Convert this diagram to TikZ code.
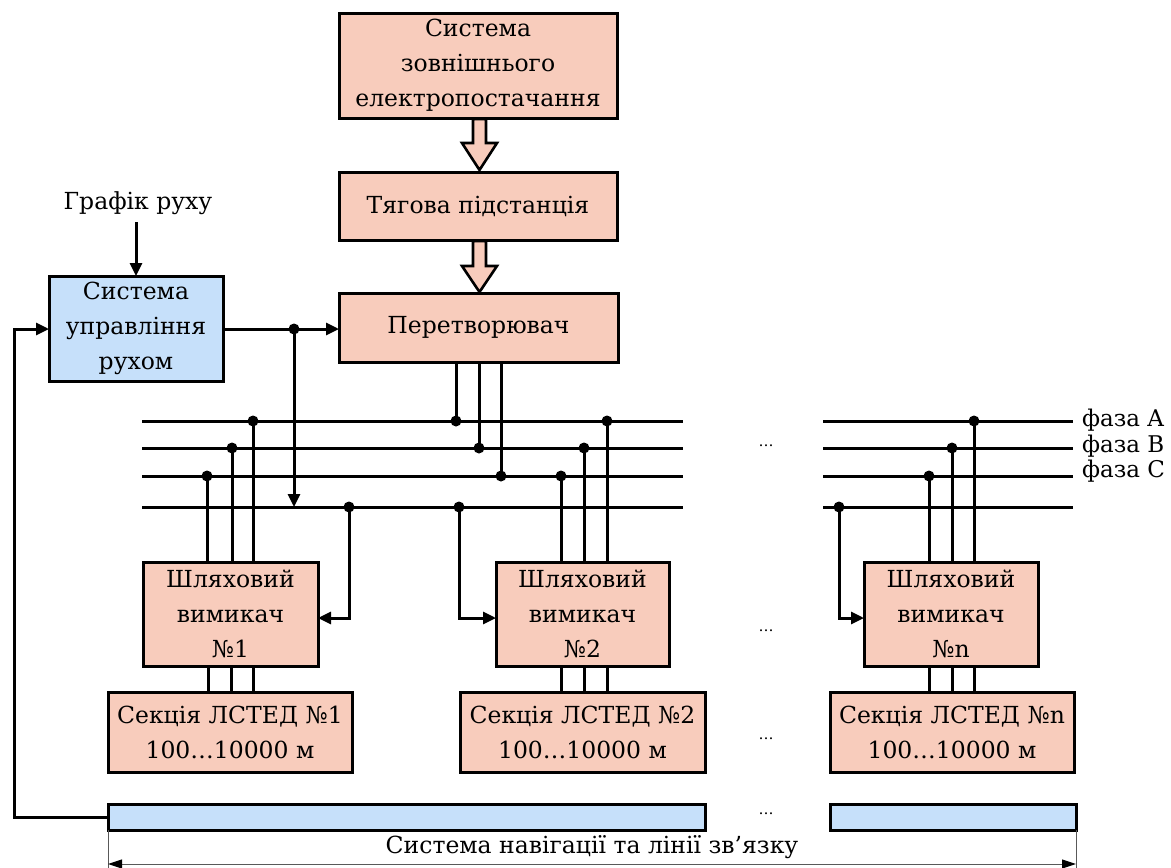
\documentclass[tikz,border=0pt]{standalone}
\usepackage{fontspec}
\setmainfont{DejaVu Serif}
\usetikzlibrary{arrows.meta}
\definecolor{salmon}{RGB}{248,204,188}
\definecolor{lblue}{RGB}{198,224,250}
\tikzset{
  box/.style={draw=black, line width=3pt, fill=salmon, inner sep=0pt, outer sep=0pt, align=center, anchor=north west, font=\fontsize{23.5}{35}\selectfont},
  bbox/.style={box, fill=lblue},
  wire/.style={line width=3pt},
  arr/.style={wire, -{Triangle[length=13pt,width=12pt]}},
  dot/.style={circle, fill=black, inner sep=0pt, minimum size=11pt},
  lbl/.style={font=\fontsize{23.5}{35}\selectfont, inner sep=0pt},
  phase/.style={font=\fontsize{23}{26}\selectfont, inner sep=0pt, anchor=west},
  hollow/.style={draw=black, line width=2.6pt, fill=salmon}
}
\begin{document}
\begin{tikzpicture}[x=1pt,y=-1pt]
\useasboundingbox (0,0) rectangle (1171,868);
% main boxes
\node[box, minimum width=278pt, minimum height=105pt] (sup) at (339,13) {Система\\зовнішнього\\електропостачання};
\node[box, minimum width=278pt, minimum height=68pt] (tyag) at (339,172) {Тягова підстанція};
\node[box, minimum width=279pt, minimum height=69pt] (conv) at (339,293) {Перетворювач};
\node[bbox, minimum width=174pt, minimum height=105pt] (ctrl) at (49,276) {Система\\управління\\рухом};
\node[lbl] (graf) at (138,203) {Графік руху};
% hollow arrows
\draw[hollow] (473,119) -- (486,119) -- (486,143) -- (497,143) -- (479.5,170) -- (462,143) -- (473,143) -- cycle;
\draw[hollow] (473,241) -- (486,241) -- (486,266) -- (497,266) -- (479.5,292) -- (462,266) -- (473,266) -- cycle;
% switches and sections
\node[box, minimum width=175pt, minimum height=104pt] (sw1) at (143,562) {Шляховий\\вимикач\\№1};
\node[box, minimum width=173pt, minimum height=104pt] (sw2) at (496,562) {Шляховий\\вимикач\\№2};
\node[box, minimum width=174pt, minimum height=104pt] (swn) at (864,562) {Шляховий\\вимикач\\№n};
\node[box, minimum width=244pt, minimum height=80pt] (sec1) at (108,692) {Секція ЛСТЕД №1\\100…10000 м};
\node[box, minimum width=245pt, minimum height=80pt] (sec2) at (460,692) {Секція ЛСТЕД №2\\100…10000 м};
\node[box, minimum width=244pt, minimum height=80pt] (secn) at (830,692) {Секція ЛСТЕД №n\\100…10000 м};
\node[bbox, minimum width=597pt, minimum height=26pt] (bar1) at (108,804) {};
\node[bbox, minimum width=246pt, minimum height=26pt] (bar2) at (830,804) {};
% bus coordinates
\coordinate (LA) at (142,421); \coordinate (RA) at (683,421);
\coordinate (LB) at (142,448); \coordinate (RB) at (683,448);
\coordinate (LC) at (142,476); \coordinate (RC) at (683,476);
\coordinate (LD) at (142,507); \coordinate (RD) at (683,507);
\coordinate (LA2) at (823,421); \coordinate (RA2) at (1073,421);
\coordinate (LB2) at (823,448); \coordinate (RB2) at (1073,448);
\coordinate (LC2) at (823,476); \coordinate (RC2) at (1073,476);
\coordinate (LD2) at (823,507); \coordinate (RD2) at (1073,507);
\draw[wire] (LA) -- (RA); \draw[wire] (LB) -- (RB); \draw[wire] (LC) -- (RC); \draw[wire] (LD) -- (RD);
\draw[wire] (LA2) -- (RA2); \draw[wire] (LB2) -- (RB2); \draw[wire] (LC2) -- (RC2); \draw[wire] (LD2) -- (RD2);
\node[phase] (fa) at (1082,420) {фаза A};
\node[phase] (fb) at (1082,446) {фаза B};
\node[phase] (fc) at (1082,471) {фаза C};
% converter to bus
\draw[wire] (456,362) -- (456,421) node[dot]{};
\draw[wire] (479,362) -- (479,448) node[dot]{};
\draw[wire] (501,362) -- (501,476) node[dot]{};
% control
\coordinate (g1) at (136,222);
\draw[arr] (ctrl.north |- g1) -- (ctrl.north);
\coordinate (cy) at (0,329);
\draw[arr] (ctrl.east |- cy) -- (conv.west |- cy);
\node[dot] (cd) at (294,329) {};
\draw[arr] (cd.center) -- (294,507);
\coordinate (fbx) at (14,0);
\coordinate (fb2) at (14,329);
\draw[arr] (bar1.west) -- (bar1.west -| fbx) -- (fb2) -- (ctrl.west |- fb2);
% switch 1
\draw[wire] (207,562) -- (207,476) node[dot]{};
\draw[wire] (232,562) -- (232,448) node[dot]{};
\draw[wire] (253,562) -- (253,421) node[dot]{};
\node[dot] (d1) at (349,507) {};
\coordinate (ay) at (0,618);
\draw[arr] (d1.center) -- (d1.center |- ay) -- (sw1.east |- ay);
\draw[wire] (208,666) -- (208,692); \draw[wire] (231,666) -- (231,692); \draw[wire] (253,666) -- (253,692);
% switch 2
\draw[wire] (561,562) -- (561,476) node[dot]{};
\draw[wire] (584,562) -- (584,448) node[dot]{};
\draw[wire] (607,562) -- (607,421) node[dot]{};
\node[dot] (d2) at (459,507) {};
\draw[arr] (d2.center) -- (d2.center |- ay) -- (sw2.west |- ay);
\draw[wire] (561,666) -- (561,692); \draw[wire] (584,666) -- (584,692); \draw[wire] (607,666) -- (607,692);
% switch n
\draw[wire] (929,562) -- (929,476) node[dot]{};
\draw[wire] (952,562) -- (952,448) node[dot]{};
\draw[wire] (974,562) -- (974,421) node[dot]{};
\node[dot] (dn) at (839,507) {};
\draw[arr] (dn.center) -- (dn.center |- ay) -- (swn.west |- ay);
\draw[wire] (929,666) -- (929,692); \draw[wire] (952,666) -- (952,692); \draw[wire] (974,666) -- (974,692);
% ellipses
\node[lbl, font=\fontsize{15}{15}\selectfont] (e1) at (766,446) {…};
\node[lbl, font=\fontsize{15}{15}\selectfont] (e2) at (766,631) {…};
\node[lbl, font=\fontsize{15}{15}\selectfont] (e3) at (766,739) {…};
\node[lbl, font=\fontsize{15}{15}\selectfont] (e4) at (766,814) {…};
% dimension
\coordinate (x1) at (108,868); \coordinate (x2) at (1076,868);
\draw[line width=1pt, gray!70!black] (bar1.south west) -- (x1);
\draw[line width=1pt, gray!70!black] (bar2.south east) -- (x2);
\draw[line width=1pt, gray!70!black, {Triangle[length=14pt,width=9pt,black]}-{Triangle[length=14pt,width=9pt,black]}] (108,864) -- (1076,864);
\node[lbl] (nav) at (592,847) {Система навігації та лінії зв’язку};
\end{tikzpicture}
\end{document}
